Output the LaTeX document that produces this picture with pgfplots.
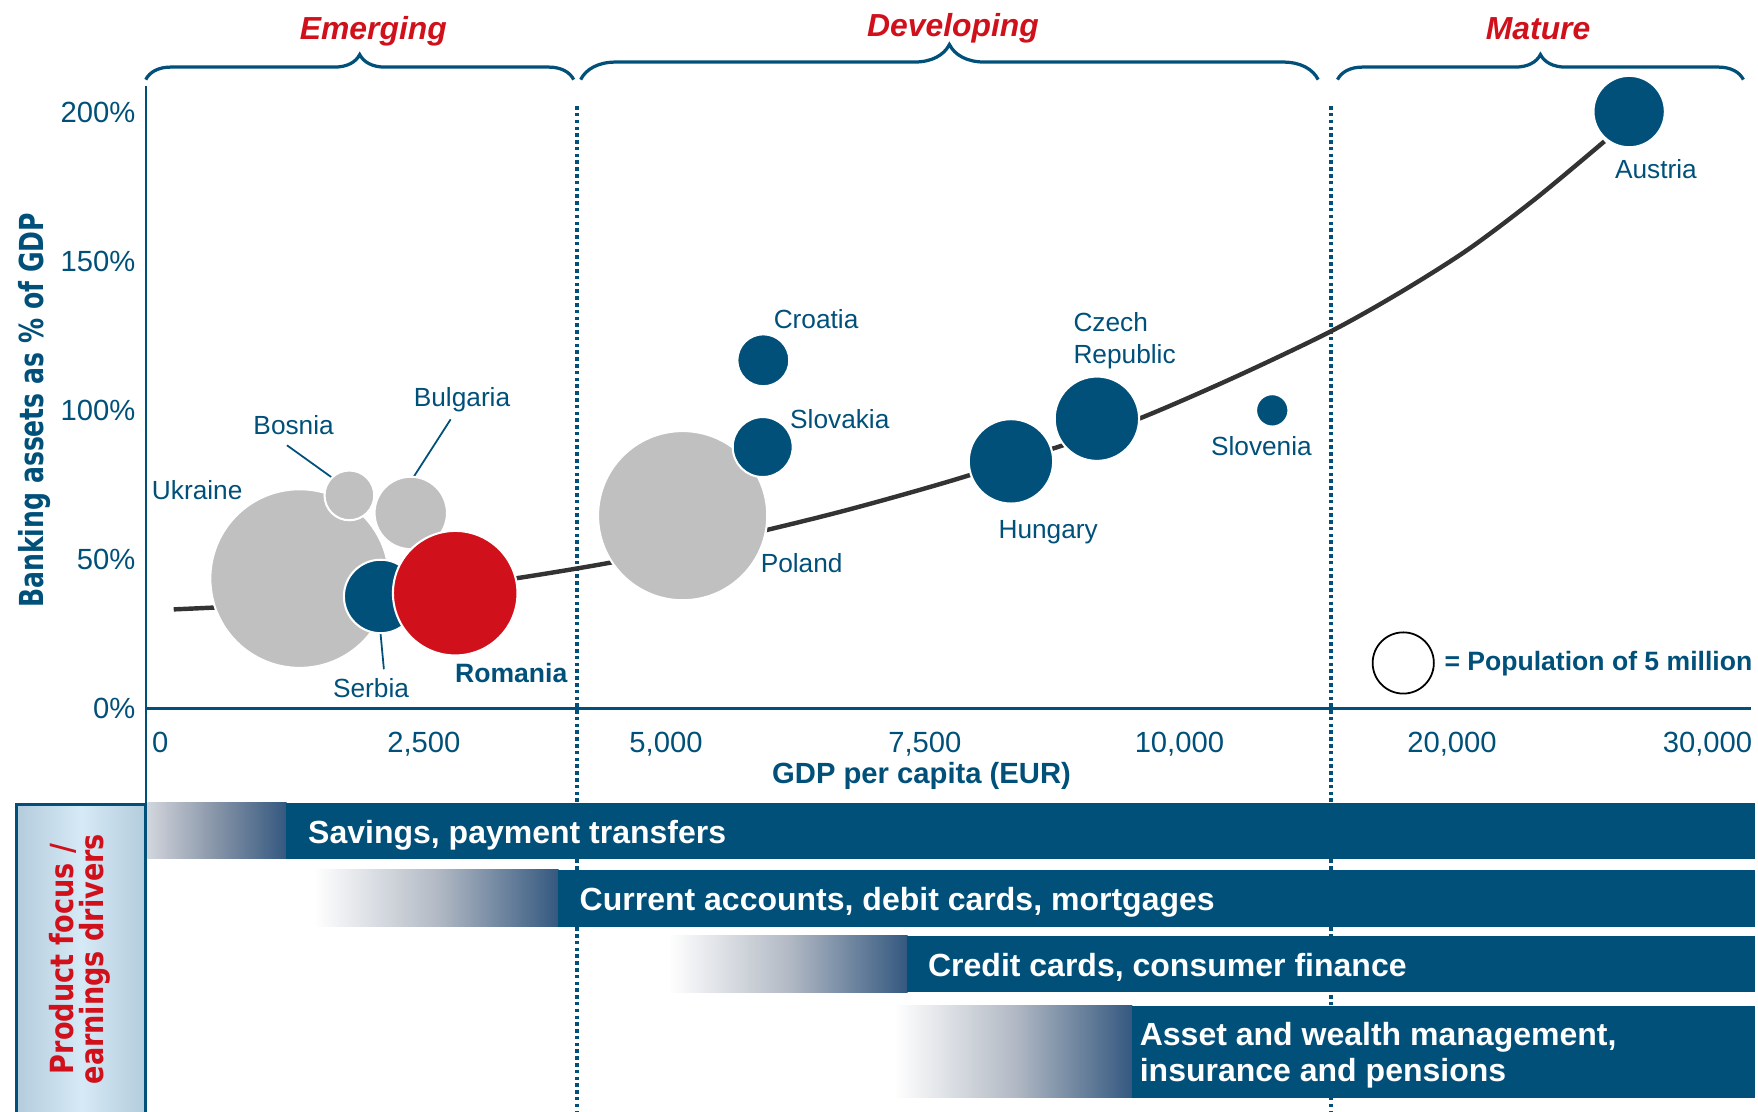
\documentclass[border=0pt]{standalone}
\usepackage{fontspec}
\setmainfont{Liberation Sans}
\newfontfamily\ylabfont{DejaVu Sans}[FakeStretch=0.76]
\newfontfamily\boxfont{DejaVu Sans}[FakeStretch=0.85]
\usepackage{pgfplots}
\usepackage{pgfplotstable}
\pgfplotsset{compat=1.18}
\usetikzlibrary{decorations.pathreplacing}

\definecolor{bankblue}{HTML}{00507A}
\definecolor{hired}{HTML}{D0101A}
\definecolor{bubgray}{HTML}{C0C0C0}
\definecolor{trend}{HTML}{333333}
\definecolor{fadestart}{HTML}{D2D5DC}
\definecolor{fademid}{HTML}{B3BAC5}
\definecolor{fademidb}{HTML}{8593A7}
\definecolor{fadeend}{HTML}{34587F}
\definecolor{boxedge}{HTML}{B3CCDC}
\definecolor{boxmid}{HTML}{D6E9F6}

% x axis is piecewise: 2,500 EUR per unit up to 10,000, then 10,000 EUR per unit
\newcommand{\gdpmap}{(\thisrow{gdp}<=10000 ? \thisrow{gdp}/2500 : 4+(\thisrow{gdp}-10000)/10000)}

% GDP per capita (EUR), banking assets (% of GDP), population (m)
\pgfplotstableread{
country  gdp   bank  pop
Ukraine  1351  43.6  42.6
Bosnia   1833  71.5  3.3
Bulgaria 2428  65.6  7.0
Poland   5064  64.7  38.2
}\graycountries
\pgfplotstableread{
country  gdp   bank  pop
Serbia   2136  37.6  7.2
Croatia  5846  116.8 3.6
Slovakia 5840  87.7  4.8
Hungary  8247  82.9  9.5
Czech    9080  97.2  9.5
Slovenia 13120 100.0 1.4
Austria  26960 200.2 6.8
}\bluecountries
\pgfplotstableread{
country  gdp   bank  pop
Romania  2859  38.7  20.7
}\redcountries
\pgfplotstableread{
country gdp   bank pop
Key     18200 15.3 5
}\sizekey
\pgfplotstableread{
gdp   bank
130   33.27
1163  35.08
2228  38.38
3337  43.12
4424  49.32
5511  56.95
6598  66.05
7685  76.58
8772  88.53
9500  97.37
11609 110.9
15348 126.3
18130 139.8
20739 154.1
23348 171.1
26000 190.2
}\trendline

\pgfplotsset{
  bubble/.style 2 args={
    only marks, mark=*, scatter,
    scatter/use mapped color={draw=#1, fill=#2},
    visualization depends on={4.639*sqrt(\thisrow{pop}) \as \rad},
    scatter/@pre marker code/.append style={/tikz/mark size=\rad},
    mark options={line width=0.7pt},
  },
}
\tikzset{
  lab/.style={font=\fontsize{8.9}{10.6}\selectfont, text=bankblue, anchor=base, inner sep=0pt},
  bartext/.style={font=\fontsize{10.85}{12}\selectfont\bfseries, text=white, anchor=base west, inner sep=0pt},
  stage/.style={font=\fontsize{10.8}{12}\selectfont\bfseries\itshape, text=hired, anchor=base, inner sep=0pt},
  stagesep/.style={bankblue, line width=1.3pt, dash pattern=on 1.2pt off 1.1pt},
  % right color resets the middle colour, so middle color goes last
  fade/.style={draw=none, left color=#1, right color=fadeend, middle color=fademid},
}

\begin{document}
\begin{tikzpicture}
\begin{axis}[
  x=87.4pt, y=1.0108pt,
  xmin=-0.0565, xmax=6.17,
  ymin=-135, ymax=208.8,
  axis x line=middle, axis y line=left,
  axis line style={-, draw=bankblue, line width=0.8pt},
  hide obscured x ticks=false, hide obscured y ticks=false,
  xtick={0,1.022,1.961,2.965,3.952,5.009,6.0},
  xticklabels={\raisebox{-2.85pt}{0},{2,500},{5,000},{7,500},{10,000},{20,000},{30,000}},
  ytick={0,50,100,150,200},
  yticklabels={0\%,50\%,100\%,150\%,200\%},
  major tick length=0pt,
  tick label style={font=\fontsize{9.9}{11}\selectfont, text=bankblue},
  xticklabel style={yshift=-4.5pt},
  clip=false,
]
% product focus box
\addplot[draw=bankblue, line width=1pt, left color=boxedge, right color=boxedge, middle color=boxmid]
  coordinates {(-0.557,-140) (-0.557,-32) (-0.0565,-32) (-0.0565,-140)};
\node[font=\boxfont\fontsize{10.8}{12}\selectfont\bfseries, text=hired, rotate=90, anchor=base, inner sep=0pt]
  at (axis cs:-0.335,-84) {Product focus /};
\node[font=\boxfont\fontsize{10.8}{12}\selectfont\bfseries, text=hired, rotate=90, anchor=base, inner sep=0pt]
  at (axis cs:-0.222,-84) {earnings drivers};

% stage separators
\draw[stagesep] (axis cs:1.617,202) -- (axis cs:1.617,-140);
\draw[stagesep] (axis cs:4.539,202) -- (axis cs:4.539,-140);

% product bars: faded start, then solid
\addplot[fade=fadestart, middle color=fademidb]
  coordinates {(-0.05,-31.6) (0.49,-31.6) (0.49,-50.4) (-0.05,-50.4)};
\addplot[draw=none, fill=bankblue]
  coordinates {(0.488,-31.6) (6.185,-31.6) (6.185,-50.4) (0.488,-50.4)};
\addplot[fade=white]
  coordinates {(0.596,-54.1) (1.545,-54.1) (1.545,-73.1) (0.596,-73.1)};
\addplot[draw=none, fill=bankblue]
  coordinates {(1.543,-54.1) (6.185,-54.1) (6.185,-73.1) (1.543,-73.1)};
\addplot[fade=white]
  coordinates {(1.97,-76.2) (2.898,-76.2) (2.898,-95.1) (1.97,-95.1)};
\addplot[draw=none, fill=bankblue]
  coordinates {(2.896,-76.2) (6.185,-76.2) (6.185,-95.1) (2.896,-95.1)};
\addplot[fade=white]
  coordinates {(2.846,-99.6) (3.77,-99.6) (3.77,-130.5) (2.846,-130.5)};
\addplot[draw=none, fill=bankblue]
  coordinates {(3.768,-99.6) (6.185,-99.6) (6.185,-130.5) (3.768,-130.5)};

\node[bartext] at (axis cs:0.571,-45.1) {Savings, payment transfers};
\node[bartext] at (axis cs:1.624,-67.7) {Current accounts, debit cards, mortgages};
\node[bartext] at (axis cs:2.975,-89.8) {Credit cards, consumer finance};
\node[bartext] at (axis cs:3.796,-112.8) {Asset and wealth management,};
\node[bartext] at (axis cs:3.796,-125.1) {insurance and pensions};

% trend curve
\addplot[trend, line width=1.5pt, smooth] table[x expr=\gdpmap, y=bank] {\trendline};

% bubbles, area proportional to population
\addplot[bubble={white}{bubgray}] table[x expr=\gdpmap, y=bank] {\graycountries};
\addplot[bubble={white}{bankblue}] table[x expr=\gdpmap, y=bank] {\bluecountries};
\addplot[bubble={white}{hired}] table[x expr=\gdpmap, y=bank] {\redcountries};
\addplot[bubble={black}{white}, mark options={line width=0.6pt}]
  table[x expr=\gdpmap, y=bank] {\sizekey};

% country labels
\node[lab] at (axis cs:0.143,70.2) {Ukraine};
\node[lab] at (axis cs:0.517,92.0) {Bosnia};
\node[lab] at (axis cs:1.170,101.4) {Bulgaria};
\node[lab] at (axis cs:0.817,3.6) {Serbia};
\node[lab, font=\fontsize{9}{11}\selectfont\bfseries] at (axis cs:1.361,8.8) {Romania};
\node[lab] at (axis cs:2.487,45.7) {Poland};
\node[lab] at (axis cs:2.543,127.3) {Croatia};
\node[lab] at (axis cs:2.635,93.8) {Slovakia};
\node[lab] at (axis cs:3.443,57.0) {Hungary};
\node[lab, anchor=base west] at (axis cs:3.539,126.3) {Czech};
\node[lab, anchor=base west] at (axis cs:3.539,115.8) {Republic};
\node[lab] at (axis cs:4.270,84.8) {Slovenia};
\node[lab] at (axis cs:5.800,177.7) {Austria};
\node[lab, anchor=base west, font=\fontsize{9}{10}\selectfont\bfseries] at (axis cs:4.978,12.9) {= Population of 5 million};

\draw[bankblue, line width=0.6pt] (axis cs:0.491,88.3) -- (axis cs:0.678,76.7);
\draw[bankblue, line width=0.6pt] (axis cs:1.126,97.0) -- (axis cs:0.978,77.1);
\draw[bankblue, line width=0.6pt] (axis cs:0.854,25.2) -- (axis cs:0.867,13.2);

% axis titles
\node[font=\fontsize{9.9}{12}\selectfont\bfseries, text=bankblue, anchor=base, inner sep=0pt]
  at (axis cs:2.952,-25.0) {GDP per capita (EUR)};
\node[font=\ylabfont\fontsize{11.2}{13}\selectfont\bfseries, text=bankblue, rotate=90, anchor=base, inner sep=0pt]
  at (axis cs:-0.454,100) {Banking assets as \% of GDP};

% development stages
\draw[bankblue, line width=1.1pt, decorate, decoration={brace, amplitude=8.5pt}]
  (axis cs:-0.0565,210.9) -- (axis cs:1.603,210.9);
\draw[bankblue, line width=1.1pt, decorate, decoration={brace, amplitude=11.9pt}]
  (axis cs:1.630,210.9) -- (axis cs:4.490,210.9);
\draw[bankblue, line width=1.1pt, decorate, decoration={brace, amplitude=8.5pt}]
  (axis cs:4.565,210.9) -- (axis cs:6.139,210.9);
\node[stage] at (axis cs:0.826,224.4) {Emerging};
\node[stage] at (axis cs:3.074,225.3) {Developing};
\node[stage] at (axis cs:5.343,224.4) {Mature};

\coordinate (bbsw) at (axis cs:-0.6217,-134.96);
\coordinate (bbne) at (axis cs:6.1957,237.6);
\end{axis}
\pgfresetboundingbox
\path[use as bounding box] (bbsw) rectangle (bbne);
\end{tikzpicture}
\end{document}
